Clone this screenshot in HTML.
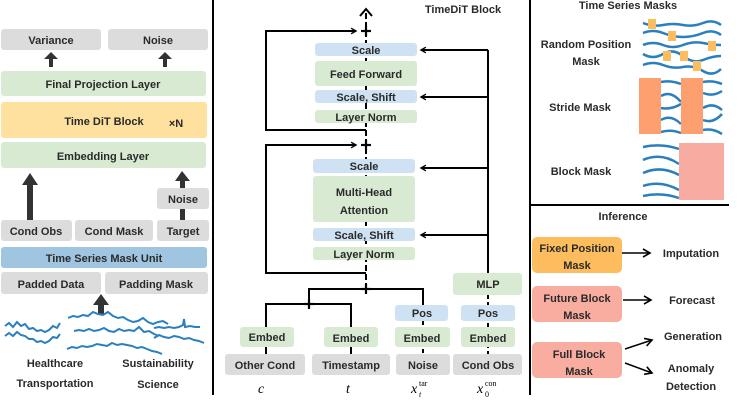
<!DOCTYPE html>
<html><head><meta charset="utf-8"><style>
html,body{margin:0;padding:0;background:#fff;}
svg{display:block;font-family:"Liberation Sans",sans-serif;}
.b{font-weight:bold;font-size:11px;fill:#2a2a2a;}
</style></head><body>
<svg width="751" height="411" viewBox="0 0 751 411" xmlns="http://www.w3.org/2000/svg">
<defs>
<marker id="ah" viewBox="0 0 10 10" refX="8" refY="5" markerWidth="7" markerHeight="7" orient="auto-start-reverse" markerUnits="userSpaceOnUse"><path d="M1,1 L8,5 L1,9" fill="none" stroke="#000" stroke-width="2"/></marker>
<marker id="ah2" viewBox="0 0 10 10" refX="8" refY="5" markerWidth="10" markerHeight="10" orient="auto" markerUnits="userSpaceOnUse"><path d="M1,1 L8,5 L1,9" fill="none" stroke="#000" stroke-width="1.6"/></marker>
</defs>
<line x1="213" y1="0" x2="213" y2="395" stroke="#000" stroke-width="2"/>
<line x1="530" y1="0" x2="530" y2="395" stroke="#000" stroke-width="2"/>
<line x1="530" y1="205" x2="729" y2="205" stroke="#000" stroke-width="2"/>

<!-- fat arrows (behind boxes) -->
<g fill="#333">
<rect x="49" y="59" width="4" height="8"/><polygon points="44,59 58,59 51,52"/>
<rect x="163" y="59" width="4" height="8"/><polygon points="158,59 172,59 165,52"/>
<rect x="27" y="184" width="6" height="36"/><polygon points="22,185 38,185 30,173"/>
<rect x="180" y="180" width="5" height="40"/><polygon points="175,181 190,181 182,171"/>
<rect x="98" y="304" width="6" height="11"/><polygon points="93,305 109,305 101,294"/>
</g>

<g text-anchor="middle" class="b">
<rect x="1" y="29" width="100" height="21" rx="3" fill="#dcdcdc"/><text x="51" y="44" class="b">Variance</text>
<rect x="108" y="29" width="100" height="21" rx="3" fill="#dcdcdc"/><text x="158" y="44" class="b">Noise</text>
<rect x="1" y="71" width="205" height="25" rx="3" fill="#d9ead3"/><text x="103" y="88" class="b">Final Projection Layer</text>
<rect x="1" y="102" width="206" height="36" rx="3" fill="#fee19f"/><text x="104" y="125" class="b">Time DiT Block</text>
<text x="176" y="127" class="b">×N</text>
<rect x="1" y="142" width="205" height="26" rx="3" fill="#d9ead3"/><text x="103" y="160" class="b">Embedding Layer</text>
<rect x="157" y="188" width="52" height="21" rx="3" fill="#dcdcdc"/><text x="183" y="203" class="b">Noise</text>
<rect x="1" y="220" width="71" height="21" rx="3" fill="#dcdcdc"/><text x="36" y="235" class="b">Cond Obs</text>
<rect x="75" y="220" width="78" height="21" rx="3" fill="#dcdcdc"/><text x="114" y="235" class="b">Cond Mask</text>
<rect x="157" y="220" width="52" height="21" rx="3" fill="#dcdcdc"/><text x="183" y="235" class="b">Target</text>
<rect x="1" y="247" width="206" height="21" rx="3" fill="#9fc5e0"/><text x="104" y="262" class="b">Time Series Mask Unit</text>
<rect x="1" y="272" width="100" height="22" rx="3" fill="#dcdcdc"/><text x="51" y="288" class="b">Padded Data</text>
<rect x="105" y="272" width="103" height="22" rx="3" fill="#dcdcdc"/><text x="156" y="288" class="b">Padding Mask</text>
<text x="55" y="367" class="b">Healthcare</text>
<text x="158" y="367" class="b">Sustainability</text>
<text x="55" y="387" class="b">Transportation</text>
<text x="158" y="388" class="b">Science</text>
</g>
<g fill="none" stroke="#2a7fbf" stroke-width="2">
<path d="M5,326 l4,-3 4,4 4,-5 4,4 4,-2 4,5 4,-1 4,3 4,-1 4,2 4,-2 4,-4 4,2 3,-5"/>
<path d="M5,336 l4,-3 4,3 4,-4 4,3 4,1 4,3 4,0 4,3 4,-1 4,2 4,-2 4,-4 4,1 3,-4"/>
<path d="M68,318 l5,-2 5,1 5,-2 5,1 5,-4 5,2 5,1 5,-3 5,4 5,2 5,-1 5,3 5,2 5,-1 5,-3 5,4 5,2 5,-2 5,-1 5,3"/>
<path d="M70,333 m4,-2 l5,-1 5,1 5,-2 5,2 5,-1 5,-2 5,3 5,1 5,-3 5,2 5,-1 5,1 5,-4 5,5 5,-1 5,3 5,2"/>
<path d="M67,349 l5,-2 5,1 5,-2 5,1 5,-1 5,-2 5,1 5,1 5,-3 5,2 5,-1 5,1 5,1 5,2 5,-1 5,2 5,2 5,1 5,2"/>
<path d="M154,328 l5,-1 5,1 5,-1 5,1 5,-1 4,-2 1,-6 1,8 5,-1 5,1 5,0"/>
<path d="M154,338 l5,-3 5,2 5,1 5,-2 5,1 5,2 5,-1 5,2 5,1 5,2"/>
</g>

<!-- MIDDLE PANEL -->
<text x="463" y="13" text-anchor="middle" class="b">TimeDiT Block</text>
<g fill="none" stroke="#000" stroke-width="2">
<line x1="366" y1="289" x2="366" y2="10" stroke-dasharray="6,3"/>
<polyline points="366,130 266,130 266,31 356,31" marker-end="url(#ah)"/>
<polyline points="366,273 266,273 266,145 356,145" marker-end="url(#ah)"/>
<line x1="488" y1="273" x2="488" y2="50"/>
<line x1="488" y1="50" x2="421" y2="50" marker-end="url(#ah)"/>
<line x1="488" y1="97" x2="421" y2="97" marker-end="url(#ah)"/>
<line x1="488" y1="168" x2="421" y2="168" marker-end="url(#ah)"/>
<line x1="488" y1="235" x2="421" y2="235" marker-end="url(#ah)"/>
<polyline points="309,304 309,289 423,289 423,305"/>
<polyline points="266,327 266,304 351,304 351,327"/>
<line x1="266" y1="347" x2="266" y2="354"/><line x1="351" y1="347" x2="351" y2="354"/>
<line x1="423" y1="321" x2="423" y2="354" stroke-dasharray="4,3"/>
<line x1="488" y1="295" x2="488" y2="354" stroke-dasharray="4,3"/>
</g>
<polyline points="360,16 366,9 372,16" fill="none" stroke="#000" stroke-width="2"/>
<g stroke="#000" stroke-width="2.2">
<line x1="361" y1="31" x2="371" y2="31"/><line x1="366" y1="26" x2="366" y2="36"/>
<line x1="361" y1="145" x2="371" y2="145"/><line x1="366" y1="140" x2="366" y2="150"/>
<line x1="361" y1="289" x2="371" y2="289"/><line x1="366" y1="284" x2="366" y2="294"/>
<line x1="304" y1="304" x2="314" y2="304"/><line x1="309" y1="299" x2="309" y2="309"/>
</g>
<g text-anchor="middle" class="b">
<rect x="315" y="43" width="102" height="13" rx="3" fill="#cfe2f3"/><text x="366" y="54" class="b">Scale</text>
<rect x="315" y="61" width="102" height="25" rx="3" fill="#d9ead3"/><text x="366" y="78" class="b">Feed Forward</text>
<rect x="315" y="90" width="102" height="13" rx="3" fill="#cfe2f3"/><text x="366" y="101" class="b">Scale, Shift</text>
<rect x="315" y="110" width="102" height="13" rx="3" fill="#d9ead3"/><text x="366" y="121" class="b">Layer Norm</text>
<rect x="313" y="159" width="102" height="14" rx="3" fill="#cfe2f3"/><text x="364" y="170" class="b">Scale</text>
<rect x="313" y="176" width="102" height="46" rx="3" fill="#d9ead3"/><text x="364" y="196" class="b">Multi-Head</text><text x="364" y="214" class="b">Attention</text>
<rect x="313" y="228" width="102" height="13" rx="3" fill="#cfe2f3"/><text x="364" y="239" class="b">Scale, Shift</text>
<rect x="313" y="247" width="102" height="13" rx="3" fill="#d9ead3"/><text x="364" y="258" class="b">Layer Norm</text>
<rect x="453" y="273" width="69" height="22" rx="3" fill="#d9ead3"/><text x="488" y="288" class="b">MLP</text>
<rect x="395" y="305" width="53" height="16" rx="3" fill="#cfe2f3"/><text x="422" y="317" class="b">Pos</text>
<rect x="461" y="305" width="54" height="16" rx="3" fill="#cfe2f3"/><text x="488" y="317" class="b">Pos</text>
<rect x="240" y="327" width="54" height="20" rx="3" fill="#d9ead3"/><text x="267" y="341" class="b">Embed</text>
<rect x="324" y="327" width="54" height="20" rx="3" fill="#d9ead3"/><text x="351" y="342" class="b">Embed</text>
<rect x="395" y="327" width="55" height="20" rx="3" fill="#d9ead3"/><text x="422" y="342" class="b">Embed</text>
<rect x="461" y="327" width="54" height="20" rx="3" fill="#d9ead3"/><text x="488" y="342" class="b">Embed</text>
<rect x="225" y="354" width="80" height="21" rx="3" fill="#dcdcdc"/><text x="265" y="369" class="b">Other Cond</text>
<rect x="312" y="354" width="78" height="21" rx="3" fill="#dcdcdc"/><text x="351" y="369" class="b">Timestamp</text>
<rect x="396" y="354" width="54" height="21" rx="3" fill="#dcdcdc"/><text x="423" y="369" class="b">Noise</text>
<rect x="453" y="354" width="69" height="21" rx="3" fill="#dcdcdc"/><text x="488" y="369" class="b">Cond Obs</text>
</g>
<g font-family="Liberation Serif,serif" font-style="italic" font-size="14" fill="#000">
<text x="258" y="393">c</text>
<text x="346" y="393">t</text>
<text x="411" y="393">x</text><text x="419" y="397" font-size="8">t</text><text x="419" y="386" font-size="8" font-style="normal">tar</text>
<text x="477" y="393">x</text><text x="485" y="397" font-size="8" font-style="normal">0</text><text x="485" y="386" font-size="8" font-style="normal">con</text>
</g>

<!-- RIGHT PANEL -->
<g text-anchor="middle" class="b">
<text x="628" y="9" class="b">Time Series Masks</text>
<text x="586" y="48" class="b">Random Position</text><text x="586" y="65" class="b">Mask</text>
<text x="580" y="111" class="b">Stride Mask</text>
<text x="581" y="175" class="b">Block Mask</text>
<text x="623" y="220" class="b">Inference</text>
<rect x="532" y="237" width="90" height="36" rx="5" fill="#fdbd5e"/><text x="577" y="252" class="b">Fixed Position</text><text x="577" y="269" class="b">Mask</text>
<rect x="532" y="286" width="90" height="36" rx="5" fill="#f8ada0"/><text x="577" y="302" class="b">Future Block</text><text x="577" y="319" class="b">Mask</text>
<rect x="532" y="342" width="90" height="36" rx="5" fill="#f8ada0"/><text x="579" y="358" class="b">Full Block</text><text x="579" y="375" class="b">Mask</text>
<text x="691" y="257" class="b">Imputation</text>
<text x="692" y="304" class="b">Forecast</text>
<text x="693" y="340" class="b">Generation</text>
<text x="691" y="372" class="b">Anomaly</text>
<text x="691" y="390" class="b">Detection</text>
</g>
<g fill="none" stroke="#000" stroke-width="1.6">
<line x1="622" y1="253" x2="650" y2="253" marker-end="url(#ah2)"/>
<line x1="623" y1="300" x2="651" y2="300" marker-end="url(#ah2)"/>
<line x1="625" y1="349" x2="652" y2="340" marker-end="url(#ah2)"/>
<line x1="625" y1="363" x2="652" y2="373" marker-end="url(#ah2)"/>
</g>
<g fill="none" stroke="#2a7fbf" stroke-width="2.5">
<path d="M643,23 q10,4 20,2 t20,0 t20,-2 t18,2"/>
<path d="M643,33 q10,-4 20,0 t20,4 t20,-4 t18,2"/>
<path d="M643,45 q10,-4 20,0 t20,0 t20,-2 t18,2"/>
<path d="M643,54 q10,6 20,0 t20,2 t20,4 t18,-4"/>
<path d="M643,65 q10,-4 20,0 t20,2 t20,4 t18,-2"/>
<path d="M661,82 q10,-2 20,2 M703,82 q10,-2 19,2"/>
<path d="M661,96 q10,-6 20,6 M703,93 q10,4 19,-2"/>
<path d="M661,108 q10,2 20,-4 M703,108 q10,-6 19,2"/>
<path d="M661,120 q10,-6 20,4 M703,120 q10,4 19,-6"/>
<path d="M661,132 q10,-3 20,1 M703,130 q10,-2 19,4"/>
<path d="M643,147 q18,-4 36,2"/><path d="M643,160 q18,-8 36,4"/><path d="M643,173 q18,-8 36,2"/><path d="M643,186 q18,-6 36,4"/><path d="M643,196 q18,-4 36,2"/>
</g>
<g fill="#fdbd5e">
<rect x="648" y="19" width="8" height="10"/><rect x="668" y="31" width="8" height="10"/><rect x="708" y="41" width="8" height="10"/>
<rect x="663" y="51" width="8" height="10"/><rect x="680" y="51" width="8" height="10"/><rect x="693" y="61" width="8" height="10"/>
</g>
<rect x="639" y="78" width="22" height="56" fill="#fd9f6e"/>
<rect x="681" y="78" width="22" height="56" fill="#fd9f6e"/>
<rect x="679" y="143" width="45" height="57" fill="#f8aba0"/>
</svg>
</body></html>
